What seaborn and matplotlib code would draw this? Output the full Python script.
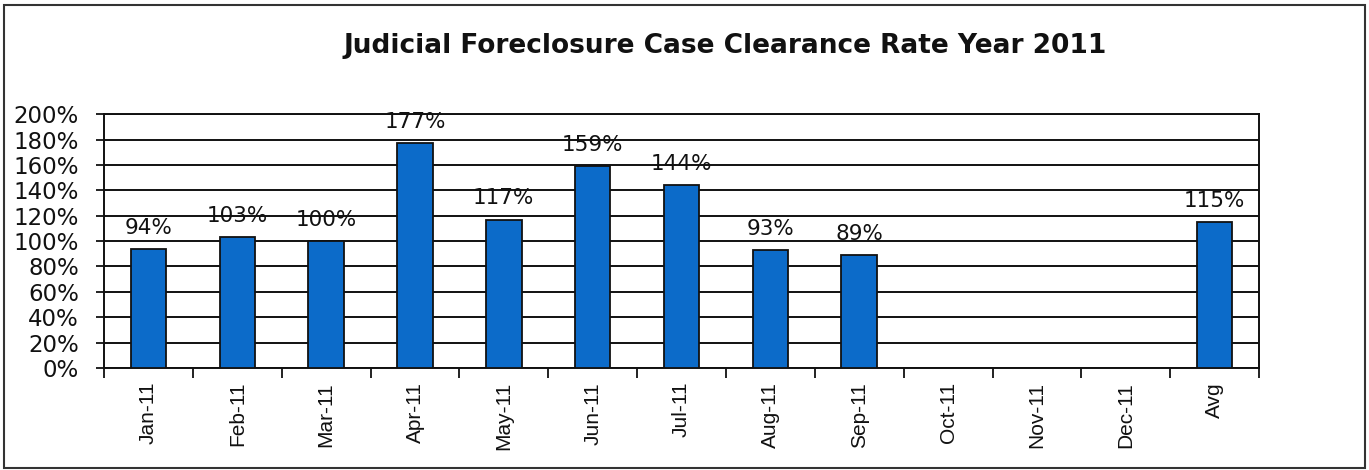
import matplotlib
matplotlib.use("Agg")
import matplotlib.pyplot as plt
import seaborn as sns
import pandas as pd
import numpy as np
from matplotlib.patches import Rectangle
from matplotlib.ticker import FixedLocator, PercentFormatter

months = ["Jan-11", "Feb-11", "Mar-11", "Apr-11", "May-11", "Jun-11", "Jul-11",
          "Aug-11", "Sep-11", "Oct-11", "Nov-11", "Dec-11", "Avg"]
rates = [94, 103, 100, 177, 117, 159, 144, 93, 89, np.nan, np.nan, np.nan, 115]
title = "Judicial Foreclosure Case Clearance Rate Year 2011"
yticks = [0, 20, 40, 60, 80, 100, 120, 140, 160, 180, 200]

sns.set_theme(style="white")
plt.rcParams['font.family'] = ['Liberation Sans', 'DejaVu Sans']

df = pd.DataFrame({"month": months, "rate": rates})

fig = plt.figure(figsize=(13.69, 4.70), dpi=100)
ax = fig.add_axes([0.076, 0.217, 0.8437, 0.540])

sns.barplot(data=df, x="month", y="rate", order=months, color="#0c6bc9",
            saturation=1, width=0.4, edgecolor="#111111", linewidth=1.3,
            ax=ax, zorder=3)

ax.set_ylim(0, 200)
ax.set_xlim(-0.5, len(months) - 0.5)
ax.yaxis.set_major_locator(FixedLocator(yticks))
ax.yaxis.set_major_formatter(PercentFormatter(decimals=0))
ax.grid(axis="y", color="#111111", linewidth=1.4, zorder=0)
ax.grid(axis="x", visible=False)
ax.set_axisbelow(True)
for s in ["left", "bottom", "right", "top"]:
    ax.spines[s].set_visible(True)
    ax.spines[s].set_color("#111111")
    ax.spines[s].set_linewidth(1.4)

ax.set_xlabel("")
ax.set_ylabel("")
ax.tick_params(axis="y", which="major", left=True, length=6, width=1.3,
               color="#111111", labelsize=16.5, pad=12, labelcolor="#111111")
for lab in ax.get_yticklabels():
    lab.set_family("DejaVu Sans")
ax.tick_params(axis="x", which="major", bottom=False, length=0,
               labelsize=15, labelrotation=90, pad=10, labelcolor="#111111")
ax.xaxis.set_minor_locator(FixedLocator(np.arange(-0.5, len(months), 1.0)))
ax.tick_params(axis="x", which="minor", bottom=True, length=7, width=1.3,
               color="#111111")

for i, v in enumerate(rates):
    if not np.isnan(v):
        ax.annotate(f"{v:.0f}%", (i, v), xytext=(0, 8), textcoords="offset points",
                    ha="center", va="bottom", fontsize=15.5, color="#111111",
                    family="DejaVu Sans")

fig.text(0.530, 0.903, title, ha="center", va="center", fontsize=19,
         fontweight="bold", color="#111111", family="DejaVu Sans")

fig.patches.append(Rectangle((0.003, 0.005), 0.994, 0.984, transform=fig.transFigure,
                             fill=False, edgecolor="#333333", linewidth=1.5))

fig.savefig("out.png", dpi=100)
